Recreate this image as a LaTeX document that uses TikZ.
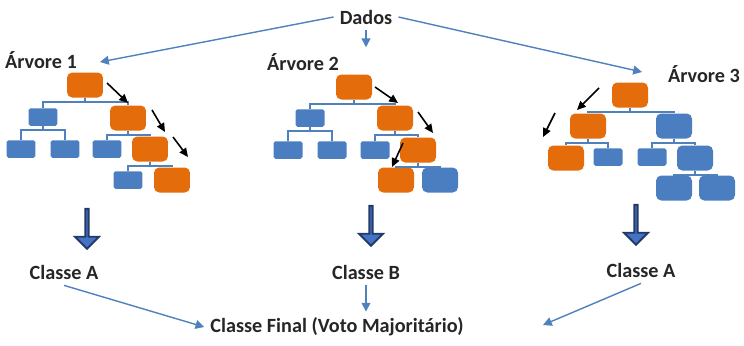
\documentclass[tikz,border=0pt]{standalone}
\usepackage{fontspec}
\setmainfont{Carlito}
\usetikzlibrary{arrows.meta, shapes.arrows, calc}

\definecolor{boxblue}{RGB}{74,126,193}
\definecolor{boxorange}{RGB}{228,108,10}
\definecolor{lineblue}{RGB}{79,129,189}
\definecolor{votefill}{RGB}{68,114,196}
\definecolor{votedraw}{RGB}{34,58,104}

\tikzset{
    bsmall/.style={fill=boxblue, rounded corners=1pt, minimum width=0.58cm, minimum height=0.35cm, inner sep=0pt},
    bbig/.style={fill=boxblue, rounded corners=3pt, minimum width=0.72cm, minimum height=0.5cm, inner sep=0pt},
    obig/.style={fill=boxorange, rounded corners=3pt, minimum width=0.72cm, minimum height=0.5cm, inner sep=0pt},
    split/.style={draw=lineblue, line width=1.3pt},
    feed/.style={draw=lineblue, line width=0.8pt, -{Triangle[length=5pt, width=5pt]}},
    walk/.style={draw=black, line width=0.9pt, -{Triangle[length=5pt, width=4.5pt]}},
    vote/.style={single arrow, shape border rotate=270, fill=votefill, draw=votedraw, line width=1.1pt,
        minimum height=0.8cm, minimum width=0.48cm, single arrow head extend=0.13cm,
        single arrow head indent=0pt, inner sep=0pt},
    lbl/.style={font=\bfseries\fontsize{11.5}{13}\selectfont, text=black!85}
}

\begin{document}
\begin{tikzpicture}[x=0.02cm, y=-0.02cm]
    \useasboundingbox (0,0) rectangle (744,345);

    % Data and tree titles
    \node[lbl] (dados) at (366,17) {Dados};
    \node[lbl] (t1) at (41,60) {Árvore 1};
    \node[lbl] (t2) at (303,62) {Árvore 2};
    \node[lbl] (t3) at (704,74) {Árvore 3};
    \coordinate (e1) at (100,62);
    \coordinate (e3) at (642,72);
    \draw[feed] (dados.west) -- (e1);
    \draw[feed] (dados.south) -- (dados.south |- t2.north);
    \draw[feed] (dados.east) -- (e3);

    % Tree 1
    \node[obig] (r1) at (85,85) {};
    \node[bsmall] (a1) at (43,117) {};
    \node[obig] (b1) at (128,118) {};
    \node[bsmall] (a1l) at (21,149) {};
    \node[bsmall] (a1r) at (65,149) {};
    \node[bsmall] (b1l) at (107,149) {};
    \node[obig] (c1) at (150,149) {};
    \node[bsmall] (c1l) at (128,180) {};
    \node[obig] (c1r) at (172,180) {};

    % Tree 2
    \node[obig] (r2) at (354,87) {};
    \node[bsmall] (a2) at (310,118) {};
    \node[obig] (b2) at (395,118) {};
    \node[bsmall] (a2l) at (288,150) {};
    \node[bsmall] (a2r) at (332,150) {};
    \node[bsmall] (b2l) at (375,150) {};
    \node[obig] (c2) at (418,150) {};
    \node[obig] (c2l) at (396,180) {};
    \node[bbig] (c2r) at (440,180) {};

    % Tree 3
    \node[obig] (r3) at (630,95) {};
    \node[obig] (a3) at (588,126) {};
    \node[bbig] (b3) at (674,126) {};
    \node[obig] (a3l) at (566,158) {};
    \node[bsmall] (a3r) at (608,157) {};
    \node[bsmall] (b3l) at (652,157) {};
    \node[bbig] (b3r) at (695,158) {};
    \node[bbig] (d3l) at (674,188) {};
    \node[bbig] (d3r) at (717,188) {};

    % Split bars
    \foreach \p/\l/\r in {r1/a1/b1, a1/a1l/a1r, b1/b1l/c1, c1/c1l/c1r,
        r2/a2/b2, a2/a2l/a2r, b2/b2l/c2, c2/c2l/c2r,
        r3/a3/b3, a3/a3l/a3r, b3/b3l/b3r, b3r/d3l/d3r} {
        \draw[split] (\p.south) -- ++(0,4);
        \draw[split] (\l.north) |- ($(\p.south)+(0,4)$) -| (\r.north);
    }

    % Decision paths
    \foreach \xa/\ya/\xb/\yb [count=\k] in {107/83/128/103, 152/110/165/132, 173/137/188/157,
        375/87/398/103, 418/112/433/133, 403/143/392/167,
        599/88/577/110, 555/113/543/137} {
        \coordinate (ws\k) at (\xa,\ya);
        \coordinate (we\k) at (\xb,\yb);
        \draw[walk] (ws\k) -- (we\k);
    }

    % Votes
    \node[vote] (v1) at (87,228) {};
    \node[vote] (v2) at (371,225) {};
    \node[vote] (v3) at (636,224) {};
    \node[lbl] (k1) at (64,272) {Classe A};
    \node[lbl] (k2) at (366,272) {Classe B};
    \node[lbl] (k3) at (641,270) {Classe A};
    \node[lbl] (final) at (337,327) {Classe Final (Voto Majoritário)};
    \coordinate (e4) at (543,325);
    \draw[feed] (k1.south) -- (final.west);
    \draw[feed] (k2.south) -- (k2.south |- final.north);
    \draw[feed] (k3.south) -- (e4);
\end{tikzpicture}
\end{document}
